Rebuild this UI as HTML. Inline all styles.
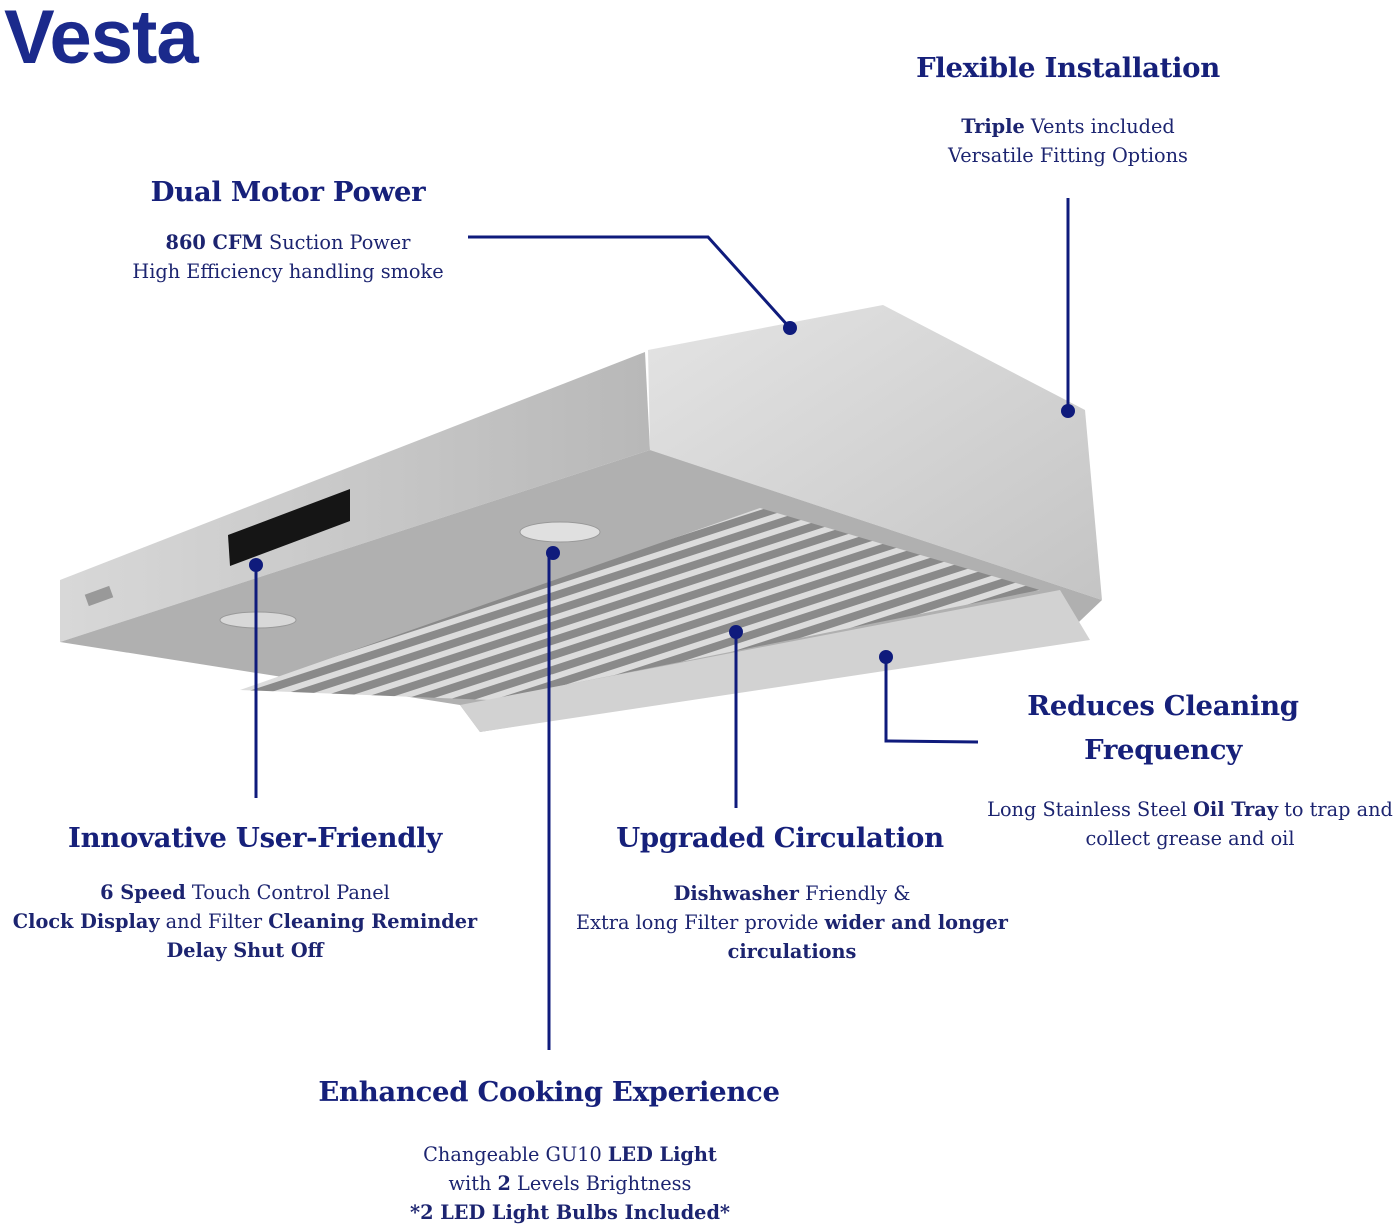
<!DOCTYPE html>
<html><head><meta charset="utf-8">
<style>
html,body{margin:0;padding:0;background:#fff;}
#c{position:relative;width:1397px;height:1227px;overflow:hidden;font-family:"DejaVu Serif","Liberation Serif",serif;color:#16207a;}
.h{position:absolute;font-weight:bold;font-size:27.5px;text-align:center;white-space:nowrap;letter-spacing:-0.3px;}
.t{position:absolute;font-size:19.3px;text-align:center;line-height:29px;white-space:nowrap;color:#1c2470;}
.t b{font-weight:bold;}
.logo{position:absolute;left:4px;top:-6px;font-family:"Liberation Sans",sans-serif;font-weight:bold;font-size:76px;color:#1b2a8c;letter-spacing:-1px;}
</style></head><body><div id="c">
<div class="logo">Vesta</div>
<svg width="1397" height="1227" style="position:absolute;left:0;top:0">
<defs>
<linearGradient id="g1" x1="0" y1="0" x2="1" y2="0"><stop offset="0" stop-color="#d8d8d8"/><stop offset="1" stop-color="#b8b8b8"/></linearGradient>
<linearGradient id="g2" x1="0" y1="0" x2="1" y2="1"><stop offset="0" stop-color="#e4e4e4"/><stop offset="1" stop-color="#c4c4c4"/></linearGradient>
<pattern id="st" width="14" height="14" patternUnits="userSpaceOnUse" patternTransform="rotate(-18)"><rect width="14" height="14" fill="#8a8a8a"/><rect width="14" height="6" fill="#dcdcdc"/></pattern>
</defs>
<polygon points="60,580 645,352 650,450 60,642" fill="url(#g1)"/>
<polygon points="648,350 883,305 1085,410 1102,600 650,450" fill="url(#g2)"/>
<polygon points="60,642 650,450 1102,600 1060,640 480,732 460,705" fill="#b0b0b0"/>
<polygon points="240,690 760,508 1040,590 490,700" fill="url(#st)"/>
<polygon points="460,705 1060,590 1090,640 480,732" fill="#d2d2d2"/>
<polygon points="228,535 350,489 350,521 230,566" fill="#151515"/>
<ellipse cx="560" cy="532" rx="40" ry="10" fill="#e0e0e0" stroke="#999"/>
<ellipse cx="258" cy="620" rx="38" ry="8" fill="#d8d8d8" stroke="#999"/>
<rect x="86" y="590" width="26" height="12" fill="#999" transform="rotate(-20 99 596)"/>
<g stroke="#0f1b7c" stroke-width="3" fill="none">
<polyline points="468,237 708,237 790,328"/>
<line x1="1068" y1="198" x2="1068" y2="411"/>
<line x1="256" y1="565" x2="256" y2="798"/>
<line x1="549" y1="553" x2="549" y2="1050"/>
<line x1="736" y1="632" x2="736" y2="808"/>
<polyline points="886,657 886,741 978,742"/>
</g>
<g fill="#0f1b7c">
<circle cx="790" cy="328" r="7"/><circle cx="1068" cy="411" r="7"/><circle cx="256" cy="565" r="7"/>
<circle cx="553" cy="553" r="7"/><circle cx="736" cy="632" r="7"/><circle cx="886" cy="657" r="7"/>
</g>
</svg>
<div class="h" style="left:1068px;top:52px;transform:translateX(-50%)">Flexible Installation</div>
<div class="t" style="left:1068px;top:112px;transform:translateX(-50%)"><b>Triple</b> Vents included<br>Versatile Fitting Options</div>
<div class="h" style="left:288px;top:176px;transform:translateX(-50%)">Dual Motor Power</div>
<div class="t" style="left:288px;top:228px;transform:translateX(-50%)"><b>860 CFM</b> Suction Power<br>High Efficiency handling smoke</div>
<div class="h" style="left:1163px;top:684px;transform:translateX(-50%);line-height:44px">Reduces Cleaning<br>Frequency</div>
<div class="t" style="left:1190px;top:795px;transform:translateX(-50%)">Long Stainless Steel <b>Oil Tray</b> to trap and<br>collect grease and oil</div>
<div class="h" style="left:255px;top:822px;transform:translateX(-50%)">Innovative User-Friendly</div>
<div class="t" style="left:245px;top:878px;transform:translateX(-50%)"><b>6 Speed</b> Touch Control Panel<br><b>Clock Display</b> and Filter <b>Cleaning Reminder</b><br><b>Delay Shut Off</b></div>
<div class="h" style="left:780px;top:822px;transform:translateX(-50%)">Upgraded Circulation</div>
<div class="t" style="left:792px;top:879px;transform:translateX(-50%)"><b>Dishwasher</b> Friendly &amp;<br>Extra long Filter provide <b>wider and longer</b><br><b>circulations</b></div>
<div class="h" style="left:549px;top:1076px;transform:translateX(-50%)">Enhanced Cooking Experience</div>
<div class="t" style="left:570px;top:1140px;transform:translateX(-50%)">Changeable GU10 <b>LED Light</b><br>with <b>2</b> Levels Brightness<br><b>*2 LED Light Bulbs Included*</b></div>
</div></body></html>
